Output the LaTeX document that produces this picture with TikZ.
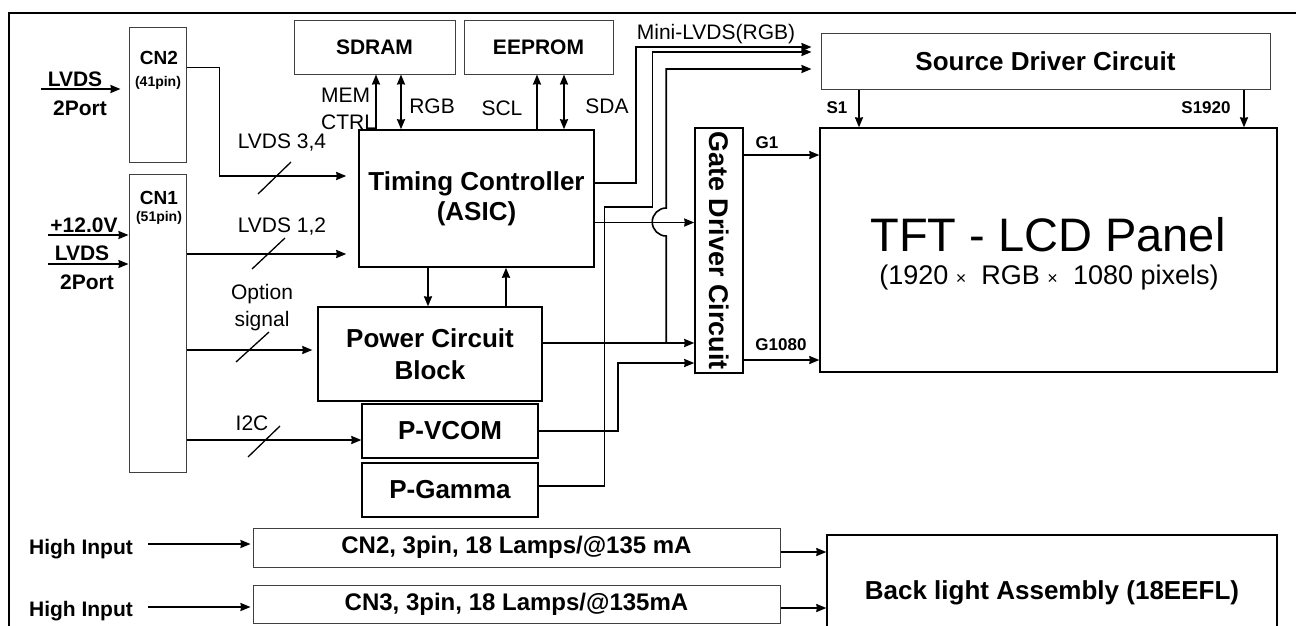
\documentclass[tikz,border=0pt]{standalone}
\usepackage{fontspec}
\setmainfont{Liberation Sans}
\usetikzlibrary{arrows.meta,positioning}

\begin{document}
\begin{tikzpicture}[x=1pt, y=-1pt,
  >={Stealth[length=10pt,width=8pt,inset=0.5pt]},
  blk/.style={rectangle, draw, line width=1.5pt, inner sep=0pt, align=center, font=\fontsize{26}{30}\selectfont\bfseries},
  thinblk/.style={blk, line width=1pt, draw=black!75},
  lbl/.style={inner sep=0pt, align=center, font=\fontsize{21}{27}\selectfont},
  blbl/.style={lbl, font=\fontsize{21}{27}\selectfont\bfseries},
  slbl/.style={lbl, font=\fontsize{17}{20}\selectfont\bfseries},
  pinlbl/.style={lbl, font=\fontsize{14}{14}\selectfont\bfseries},
  arrow/.style={->, line width=1.6pt},
  darrow/.style={<->, line width=1.6pt},
  busmark/.style={line width=1.3pt}]

\useasboundingbox (0,0) rectangle (1296,625);
\clip (0,0) rectangle (1296,625);
\draw[line width=2pt] (9,700) |- (1400,13);

% input connectors
\node[thinblk, minimum width=57pt, minimum height=135pt] (cntwo) at (157.5,94.5) {};
\node[thinblk, minimum width=57pt, minimum height=298pt] (cnone) at (157.5,323) {};
\node[blbl, font=\fontsize{19}{19}\selectfont\bfseries] (cntwoname) at (159,58) {CN2};
\node[pinlbl] (cntwopin) at (158,83) {(41pin)};
\node[blbl, font=\fontsize{19}{19}\selectfont\bfseries] (cnonename) at (159,198) {CN1};
\node[pinlbl] (cnonepin) at (159,218) {(51pin)};

\node[blbl] (lvdsa) at (75,79) {LVDS};
\node[blbl] (porta) at (80,108) {2Port};
\node[blbl] (pwrin) at (84,225) {+12.0V};
\node[blbl] (lvdsb) at (82,253) {LVDS};
\node[blbl] (portb) at (87,282) {2Port};
\coordinate (inA) at (41,89);
\coordinate (inB) at (48,235);
\coordinate (inC) at (48,264);

% main blocks
\node[thinblk, font=\fontsize{21}{26}\selectfont\bfseries, minimum width=161pt, minimum height=54pt] (sdram) at (374.5,47) {SDRAM};
\node[thinblk, font=\fontsize{21}{26}\selectfont\bfseries, minimum width=149pt, minimum height=54pt] (eeprom) at (538.5,47) {EEPROM};
\node[blk, minimum width=235pt, minimum height=137pt] (tcon) at (476.5,198.5) {Timing Controller\\(ASIC)};
\node[blk, line width=1.3pt, font=\fontsize{26}{32}\selectfont\bfseries, minimum width=224pt, minimum height=94pt] (pcb) at (430,354) {Power Circuit\\Block};
\node[blk, line width=1.3pt, minimum width=176pt, minimum height=54pt] (pvcom) at (450,431) {P-VCOM};
\node[blk, line width=1.3pt, minimum width=176pt, minimum height=54pt] (pgamma) at (450,490) {P-Gamma};
\node[blk, font=\fontsize{27}{30}\selectfont\bfseries, minimum width=48pt, minimum height=245pt] (gatedrv) at (719,250.5) {\rotatebox{-90}{Gate Driver Circuit}};
\node[thinblk, minimum width=449pt, minimum height=56pt] (srcdrv) at (1045.5,61) {Source Driver Circuit};
\node[blk, line width=1.3pt, minimum width=457pt, minimum height=244pt] (tft) at (1048.5,250) {};
\node[inner sep=0pt, font=\fontsize{47}{50}\selectfont] (tfttitle) at (1048,235) {TFT - LCD Panel};
\node[inner sep=0pt, font=\fontsize{27}{30}\selectfont] (tftres) at (1049,278) {(1920 {\fontsize{18}{18}\selectfont ×}\ \ RGB {\fontsize{18}{18}\selectfont ×}\ \ 1080 pixels)};

% back light
\node[blbl] (hia) at (81,549) {High Input};
\node[blbl] (hib) at (81,611) {High Input};
\node[thinblk, font=\fontsize{24}{28}\selectfont\bfseries, minimum width=527pt, minimum height=39pt] (lampa) at (516.5,547.5) {CN2, 3pin, 18 Lamps/@135 mA};
\node[thinblk, font=\fontsize{24}{28}\selectfont\bfseries, minimum width=527pt, minimum height=38pt] (lampb) at (516.5,604) {CN3, 3pin, 18 Lamps/@135mA};
\node[blk, line width=1.3pt, minimum width=450pt, minimum height=115pt] (blight) at (1052,592.5) {Back light Assembly (18EEFL)};

% signal labels
\node[lbl] (lbllvdsa) at (282,143) {LVDS 3,4};
\node[lbl] (lbllvdsb) at (282,227) {LVDS 1,2};
\node[lbl] (lbloption) at (262,308) {Option\\signal};
\node[lbl] (lbliic) at (252,423) {I2C};
\node[lbl, align=left, anchor=west] (lblmem) at (321,109) {MEM\\CTRL};
\node[lbl] (lblrgb) at (432,106) {RGB};
\node[lbl] (lblscl) at (502,108) {SCL};
\node[lbl] (lblsda) at (607,106) {SDA};
\node[lbl] (lblmini) at (716,34) {Mini-LVDS(RGB)};
\node[slbl] (lblsone) at (837,108) {S1};
\node[slbl] (lbls) at (1206,108) {S1920};
\node[slbl] (lblgone) at (767,143) {G1};
\node[slbl] (lblg) at (781,345) {G1080};

% ports
\coordinate (tcinA) at ([xshift=-12pt,yshift=22.5pt]tcon.west);
\coordinate (tcinB) at ([xshift=-12pt,yshift=-55.5pt]tcon.west);
\coordinate (pcbin) at ([xshift=-5pt,yshift=4pt]pcb.west);
\coordinate (vcomin) at ([yshift=-9pt]pvcom.west);
\coordinate (memc) at ([xshift=1.5pt]sdram.south);
\coordinate (memd) at ([xshift=26.5pt]sdram.south);
\coordinate (romc) at ([xshift=-1.5pt]eeprom.south);
\coordinate (romd) at ([xshift=25.5pt]eeprom.south);
\coordinate (pcbdn) at ([xshift=-2pt]pcb.north);
\coordinate (pcbup) at ([xshift=76pt]pcb.north);
\coordinate (tcout) at ([yshift=-24pt]tcon.east);
\coordinate (sdinA) at ([xshift=-9pt,yshift=14pt]srcdrv.west);
\coordinate (sdinB) at ([xshift=-9pt,yshift=9pt]srcdrv.west);
\coordinate (sdinC) at ([xshift=-9pt,yshift=-8pt]srcdrv.west);
\coordinate (gpwr) at ([yshift=-92.5pt]gatedrv.west);
\coordinate (gvcom) at ([yshift=-112.5pt]gatedrv.west);
\coordinate (gone) at ([yshift=95.5pt]gatedrv.east);
\coordinate (glast) at ([yshift=-109.5pt]gatedrv.east);
\coordinate (sone) at ([xshift=-186.5pt]srcdrv.south);
\coordinate (slast) at ([xshift=198.5pt]srcdrv.south);
\coordinate (hiaend) at ([xshift=-2pt,yshift=3.5pt]lampa.west);
\coordinate (hibend) at ([xshift=-2pt,yshift=-3pt]lampb.west);
\coordinate (bla) at ([yshift=-4.5pt]lampa.east);
\coordinate (blb) at ([yshift=-4pt]lampb.east);

% connections
\draw[arrow, shorten >=8pt] (inA) -- (inA -| cntwo.west);
\draw[arrow] (inB) -- (inB -| cnone.west);
\draw[arrow] (inC) -- (inC -| cnone.west);
\draw[arrow] ([yshift=-41pt]cntwo.north east) -- ++(33,0) |- (tcinA);
\draw[arrow] (tcinB -| cnone.east) -- (tcinB);
\draw[arrow] (pcbin -| cnone.east) -- (pcbin);
\draw[arrow] (vcomin -| cnone.east) -- (vcomin);
\draw[busmark] (258,194) -- ++(33,-32);
\draw[busmark] (252,269) -- ++(33,-31);
\draw[busmark] (236,362) -- ++(33,-30);
\draw[busmark] (248,457) -- ++(32,-31);

\draw[arrow] (memc |- tcon.north) -- (memc);
\draw[darrow] (memd |- tcon.north) -- (memd);
\draw[arrow] (romc |- tcon.north) -- (romc);
\draw[darrow] (romd |- tcon.north) -- (romd);
\draw[arrow] (pcbdn |- tcon.south) -- (pcbdn);
\draw[arrow] (pcbup) -- (pcbup |- tcon.south);

\draw[arrow] ([yshift=15.5pt]tcon.east) -- ++(41,0) |- (sdinA);
\draw[arrow] ([yshift=4pt]pgamma.east) -| ++(66,-279) -| ++(48,-155) -- (sdinB);
\draw[arrow] (tcout) -- (tcout -| gatedrv.west);
\draw[arrow] ([yshift=11pt]pcb.east) -- (gpwr);
\draw[arrow] ([xshift=-28pt]gpwr) -- ++(0,-107) arc[start angle=270, end angle=90, radius=14pt] |- (sdinC);
\draw[arrow] (pvcom.east) -| ([xshift=-76pt]gvcom) -- (gvcom);

\draw[arrow] (gone) -- (gone -| tft.west);
\draw[arrow] (glast) -- (glast -| tft.west);
\draw[arrow] (sone) -- (sone |- tft.north);
\draw[arrow] (slast) -- (slast |- tft.north);

\draw[arrow, shorten <=15pt] (hiaend -| hia.east) -- (hiaend);
\draw[arrow, shorten <=15pt] (hibend -| hib.east) -- (hibend);
\draw[arrow] (bla) -- (bla -| blight.west);
\draw[arrow] (blb) -- (blb -| blight.west);
\end{tikzpicture}
\end{document}
